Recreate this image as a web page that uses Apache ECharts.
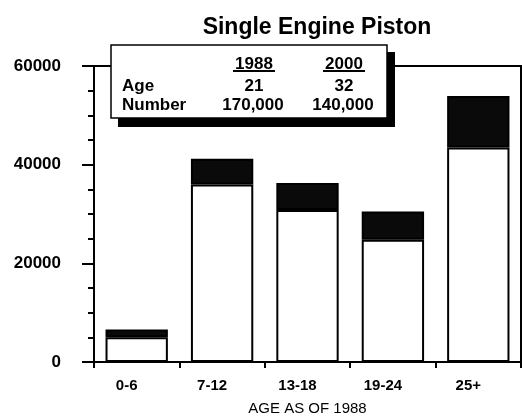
<!DOCTYPE html>
<html>
<head>
<meta charset="utf-8">
<script src="https://cdn.jsdelivr.net/npm/echarts@6/dist/echarts.min.js"></script>
<style>
  html, body { margin: 0; padding: 0; background: #fff; }
  #chart { width: 522px; height: 418px; }
</style>
</head>
<body>
<div id="chart"></div>
<script>
const categories = ['0-6', '7-12', '13-18', '19-24', '25+']
// lower white part and dark top part of each bar
const whiteValues = [5000, 36000, 30800, 24800, 43500]
const blackValues = [1600, 5200, 5500, 5700, 10400]

const tableCols = ['1988', '2000']
const tableRows = [
  ['Age', '21', '32'],
  ['Number', '170,000', '140,000']
]

const font = '"Liberation Sans", Arial, Helvetica, sans-serif'
const chart = echarts.init(document.getElementById('chart'))

const colX = [254, 344]
const rowY = [86, 105]
const graphics = [
  { type: 'rect', z: 100, shape: { x: 118, y: 52, width: 277, height: 75 }, style: { fill: '#000' } },
  { type: 'rect', z: 101, shape: { x: 111, y: 45, width: 276, height: 73 }, style: { fill: '#fff', stroke: '#000', lineWidth: 1.5 } }
]
tableCols.forEach((c, i) => {
  graphics.push({
    type: 'text', z: 102, x: colX[i], y: 64,
    style: { text: c, font: 'bold 17px ' + font, fill: '#000', align: 'center', verticalAlign: 'middle' }
  })
  graphics.push({
    type: 'line', z: 102, shape: { x1: colX[i] - 21, y1: 71, x2: colX[i] + 21, y2: 71 },
    style: { stroke: '#000', lineWidth: 2 }
  })
})
tableRows.forEach((r, j) => {
  graphics.push({
    type: 'text', z: 102, x: 122, y: rowY[j],
    style: { text: r[0], font: 'bold 17px ' + font, fill: '#000', align: 'left', verticalAlign: 'middle' }
  })
  r.slice(1).forEach((v, i) => {
    graphics.push({
      type: 'text', z: 102, x: colX[i] - (j === 1 ? 1 : 0), y: rowY[j],
      style: { text: v, font: 'bold 17px ' + font, fill: '#000', align: 'center', verticalAlign: 'middle' }
    })
  })
})

const option = {
  animation: false,
  backgroundColor: '#fff',
  title: {
    text: 'Single Engine Piston',
    left: 312,
    top: 11,
    textAlign: 'center',
    textStyle: { fontFamily: font, fontWeight: 'bold', fontSize: 23, color: '#000' }
  },
  grid: {
    left: 94, right: 1, top: 66, bottom: 56,
    outerBoundsMode: 'none',
    containLabel: false,
    show: true, borderColor: '#000', borderWidth: 2
  },
  xAxis: {
    type: 'category',
    data: categories,
    name: 'AGE AS OF 1988',
    nameLocation: 'middle',
    nameGap: 39,
    nameTextStyle: { fontFamily: font, fontSize: 15, color: '#000' },
    axisLine: { lineStyle: { color: '#000', width: 2 } },
    axisTick: { show: true, length: 6, lineStyle: { color: '#000', width: 2 } },
    axisLabel: {
      fontFamily: font, fontWeight: 'bold', fontSize: 15, color: '#000',
      margin: 16, padding: [0, 20, 0, 0]
    }
  },
  yAxis: {
    type: 'value',
    min: 0, max: 60000, interval: 20000,
    axisLine: { show: true, lineStyle: { color: '#000', width: 2 } },
    axisTick: { show: true, length: 12, lineStyle: { color: '#000', width: 2 } },
    minorTick: { show: true, splitNumber: 4, length: 6, lineStyle: { color: '#000', width: 2 } },
    splitLine: { show: false },
    axisLabel: {
      fontFamily: font, fontWeight: 'bold', fontSize: 17, color: '#000', margin: 33,
      formatter: v => String(v)
    }
  },
  series: [
    {
      type: 'bar', stack: 'total', data: whiteValues, barWidth: '73%',
      itemStyle: { color: '#fff', borderColor: '#000', borderWidth: 2 }
    },
    {
      type: 'bar', stack: 'total', data: blackValues, barWidth: '73%',
      itemStyle: { color: '#0a0a0a', borderColor: '#000', borderWidth: 2 }
    }
  ],
  graphic: graphics
}

chart.setOption(option)
</script>
</body>
</html>
